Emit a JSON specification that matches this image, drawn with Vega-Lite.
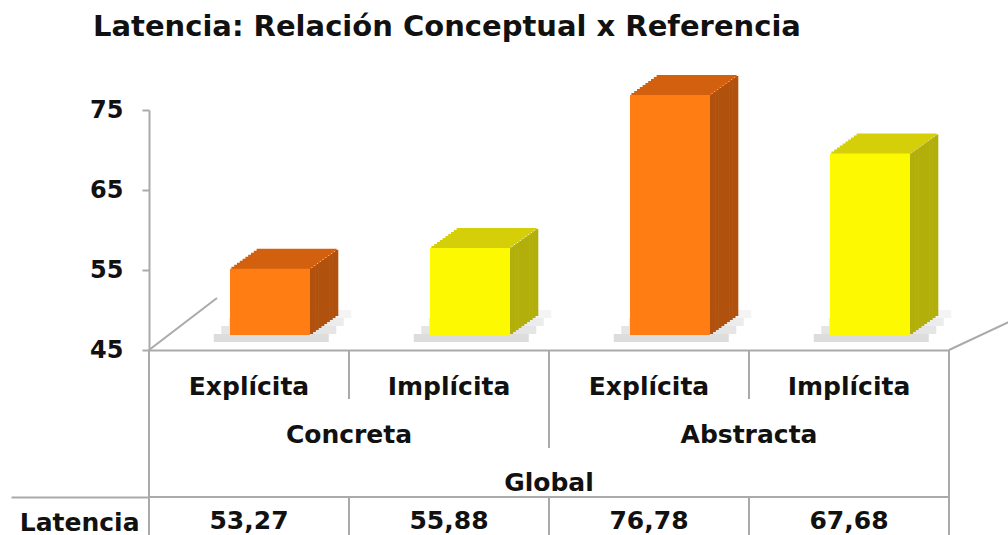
{
  "$schema": "https://vega.github.io/schema/vega-lite/v6.json",
  "padding": {"left": 10, "top": 13, "right": 0, "bottom": 0},
  "bounds": "flush",
  "spacing": 0,
  "title": {"text": "Latencia: Relación Conceptual x Referencia", "anchor": "start", "font": "DejaVu Sans", "fontSize": 29, "fontWeight": "bold", "color": "#111111", "dx": 83, "offset": 33},
  "config": {
    "view": {"stroke": null},
    "locale": {"number": {"decimal": ",", "thousands": ".", "grouping": [3], "currency": ["", " €"]}},
    "text": {"font": "DejaVu Sans", "fontWeight": "bold", "fontSize": 25, "color": "#111111", "baseline": "alphabetic"}
  },
  "datasets": {
    "bars": [
      {"rel": "Concreta", "ref": "Explícita", "cond": "Concreta Explícita", "latencia": 53.27},
      {"rel": "Concreta", "ref": "Implícita", "cond": "Concreta Implícita", "latencia": 55.88},
      {"rel": "Abstracta", "ref": "Explícita", "cond": "Abstracta Explícita", "latencia": 76.78},
      {"rel": "Abstracta", "ref": "Implícita", "cond": "Abstracta Implícita", "latencia": 67.68}
    ],
    "lines": [
      {"col": "Concreta Explícita", "from": "Referencia", "to": "Latencia"},
      {"col": "Concreta Implícita", "from": "Referencia", "to": "Referencia"},
      {"col": "Abstracta Explícita", "from": "Referencia", "to": "Relación"},
      {"col": "Abstracta Implícita", "from": "Referencia", "to": "Referencia"},
      {"col": "Concreta Implícita", "from": "Latencia", "to": "Latencia"},
      {"col": "Abstracta Explícita", "from": "Latencia", "to": "Latencia"},
      {"col": "Abstracta Implícita", "from": "Latencia", "to": "Latencia"}
    ],
    "edge": [
      {"col": "Abstracta Implícita", "from": "Referencia", "to": "Latencia"}
    ]
  },
  "vconcat": [
    {
      "width": 800,
      "height": 240,
      "resolve": {"scale": {"x": "independent"}},
      "layer": [
        {"data": {"values": [{"lado": "izquierdo"}]}, "mark": {"type": "rule", "color": "#aaaaaa", "strokeWidth": 2}, "encoding": {"x": {"datum": 0, "type": "quantitative", "scale": {"domain": [0, 4], "nice": false, "zero": false}, "axis": null}, "x2": {"datum": 0.34}, "y": {"datum": 45, "type": "quantitative"}, "y2": {"datum": 51.5}}},
        {"data": {"values": [{"lado": "derecho"}]}, "mark": {"type": "rule", "color": "#aaaaaa", "strokeWidth": 2}, "encoding": {"x": {"datum": 4, "type": "quantitative", "scale": {"domain": [0, 4], "nice": false, "zero": false}, "axis": null}, "x2": {"datum": 4.3}, "y": {"datum": 45, "type": "quantitative"}, "y2": {"datum": 48.5}}},
        {
          "data": {"name": "bars"},
          "encoding": {
            "x": {"field": "cond", "type": "nominal", "sort": ["Concreta Explícita", "Concreta Implícita", "Abstracta Explícita", "Abstracta Implícita"], "scale": {"domain": ["Concreta Explícita", "Concreta Implícita", "Abstracta Explícita", "Abstracta Implícita"], "paddingInner": 0, "paddingOuter": 0}, "axis": {"labels": false, "ticks": false, "title": null, "domainColor": "#aaaaaa", "domainWidth": 2}},
            "y": {"field": "latencia", "type": "quantitative", "scale": {"domain": [45, 75], "nice": false, "zero": false, "clamp": true}, "axis": {"values": [45, 55, 65, 75], "title": null, "grid": false, "domainColor": "#aaaaaa", "domainWidth": 2, "tickColor": "#aaaaaa", "tickWidth": 2, "tickSize": 7, "labelFont": "DejaVu Sans", "labelFontWeight": "bold", "labelFontSize": 24, "labelColor": "#111111", "labelPadding": 19}}
          },
          "layer": [
            {"mark": {"type": "bar", "width": 115, "xOffset": 22.25, "yOffset": -16, "y2Offset": -8, "color": "#b4b4b4", "opacity": 0.45}, "encoding": {"y": {"datum": 45, "type": "quantitative"}, "y2": {"datum": 45}}},
            {"mark": {"type": "bar", "width": 115, "xOffset": 29.75, "yOffset": -24, "y2Offset": -16, "color": "#b4b4b4", "opacity": 0.35}, "encoding": {"y": {"datum": 45, "type": "quantitative"}, "y2": {"datum": 45}}},
            {"mark": {"type": "bar", "width": 115, "xOffset": 37.25, "yOffset": -32, "y2Offset": -24, "color": "#b4b4b4", "opacity": 0.25}, "encoding": {"y": {"datum": 45, "type": "quantitative"}, "y2": {"datum": 45}}},
            {"mark": {"type": "bar", "width": 115, "xOffset": 44.75, "yOffset": -40, "y2Offset": -32, "color": "#b4b4b4", "opacity": 0.15}, "encoding": {"y": {"datum": 45, "type": "quantitative"}, "y2": {"datum": 45}}},
            {"mark": {"type": "bar", "width": 3.4, "xOffset": 62.4, "yOffset": -16, "y2Offset": -16}, "encoding": {"y2": {"datum": 45}, "color": {"condition": {"test": "datum.ref === 'Explícita'", "value": "#b0520e"}, "value": "#b3af0a"}}},
            {"mark": {"type": "bar", "width": 3.4, "xOffset": 65.2, "yOffset": -18, "y2Offset": -18}, "encoding": {"y2": {"datum": 45}, "color": {"condition": {"test": "datum.ref === 'Explícita'", "value": "#b0520e"}, "value": "#b3af0a"}}},
            {"mark": {"type": "bar", "width": 3.4, "xOffset": 68.0, "yOffset": -20, "y2Offset": -20}, "encoding": {"y2": {"datum": 45}, "color": {"condition": {"test": "datum.ref === 'Explícita'", "value": "#b0520e"}, "value": "#b3af0a"}}},
            {"mark": {"type": "bar", "width": 3.4, "xOffset": 70.8, "yOffset": -22, "y2Offset": -22}, "encoding": {"y2": {"datum": 45}, "color": {"condition": {"test": "datum.ref === 'Explícita'", "value": "#b0520e"}, "value": "#b3af0a"}}},
            {"mark": {"type": "bar", "width": 3.4, "xOffset": 73.6, "yOffset": -24, "y2Offset": -24}, "encoding": {"y2": {"datum": 45}, "color": {"condition": {"test": "datum.ref === 'Explícita'", "value": "#b0520e"}, "value": "#b3af0a"}}},
            {"mark": {"type": "bar", "width": 3.4, "xOffset": 76.4, "yOffset": -26, "y2Offset": -26}, "encoding": {"y2": {"datum": 45}, "color": {"condition": {"test": "datum.ref === 'Explícita'", "value": "#b0520e"}, "value": "#b3af0a"}}},
            {"mark": {"type": "bar", "width": 3.4, "xOffset": 79.2, "yOffset": -28, "y2Offset": -28}, "encoding": {"y2": {"datum": 45}, "color": {"condition": {"test": "datum.ref === 'Explícita'", "value": "#b0520e"}, "value": "#b3af0a"}}},
            {"mark": {"type": "bar", "width": 3.4, "xOffset": 82.0, "yOffset": -30, "y2Offset": -30}, "encoding": {"y2": {"datum": 45}, "color": {"condition": {"test": "datum.ref === 'Explícita'", "value": "#b0520e"}, "value": "#b3af0a"}}},
            {"mark": {"type": "bar", "width": 3.4, "xOffset": 84.8, "yOffset": -32, "y2Offset": -32}, "encoding": {"y2": {"datum": 45}, "color": {"condition": {"test": "datum.ref === 'Explícita'", "value": "#b0520e"}, "value": "#b3af0a"}}},
            {"mark": {"type": "bar", "width": 3.4, "xOffset": 87.6, "yOffset": -34, "y2Offset": -34}, "encoding": {"y2": {"datum": 45}, "color": {"condition": {"test": "datum.ref === 'Explícita'", "value": "#b0520e"}, "value": "#b3af0a"}}},
            {"mark": {"type": "bar", "width": {"band": 0.4}, "xOffset": 22.4, "yOffset": -17, "y2Offset": -14.6}, "encoding": {"y2": {"field": "latencia"}, "color": {"condition": {"test": "datum.ref === 'Explícita'", "value": "#d2600e"}, "value": "#d4cf08"}}},
            {"mark": {"type": "bar", "width": {"band": 0.4}, "xOffset": 25.2, "yOffset": -19, "y2Offset": -16.6}, "encoding": {"y2": {"field": "latencia"}, "color": {"condition": {"test": "datum.ref === 'Explícita'", "value": "#d2600e"}, "value": "#d4cf08"}}},
            {"mark": {"type": "bar", "width": {"band": 0.4}, "xOffset": 28.0, "yOffset": -21, "y2Offset": -18.6}, "encoding": {"y2": {"field": "latencia"}, "color": {"condition": {"test": "datum.ref === 'Explícita'", "value": "#d2600e"}, "value": "#d4cf08"}}},
            {"mark": {"type": "bar", "width": {"band": 0.4}, "xOffset": 30.8, "yOffset": -23, "y2Offset": -20.6}, "encoding": {"y2": {"field": "latencia"}, "color": {"condition": {"test": "datum.ref === 'Explícita'", "value": "#d2600e"}, "value": "#d4cf08"}}},
            {"mark": {"type": "bar", "width": {"band": 0.4}, "xOffset": 33.6, "yOffset": -25, "y2Offset": -22.6}, "encoding": {"y2": {"field": "latencia"}, "color": {"condition": {"test": "datum.ref === 'Explícita'", "value": "#d2600e"}, "value": "#d4cf08"}}},
            {"mark": {"type": "bar", "width": {"band": 0.4}, "xOffset": 36.4, "yOffset": -27, "y2Offset": -24.6}, "encoding": {"y2": {"field": "latencia"}, "color": {"condition": {"test": "datum.ref === 'Explícita'", "value": "#d2600e"}, "value": "#d4cf08"}}},
            {"mark": {"type": "bar", "width": {"band": 0.4}, "xOffset": 39.2, "yOffset": -29, "y2Offset": -26.6}, "encoding": {"y2": {"field": "latencia"}, "color": {"condition": {"test": "datum.ref === 'Explícita'", "value": "#d2600e"}, "value": "#d4cf08"}}},
            {"mark": {"type": "bar", "width": {"band": 0.4}, "xOffset": 42.0, "yOffset": -31, "y2Offset": -28.6}, "encoding": {"y2": {"field": "latencia"}, "color": {"condition": {"test": "datum.ref === 'Explícita'", "value": "#d2600e"}, "value": "#d4cf08"}}},
            {"mark": {"type": "bar", "width": {"band": 0.4}, "xOffset": 44.8, "yOffset": -33, "y2Offset": -30.6}, "encoding": {"y2": {"field": "latencia"}, "color": {"condition": {"test": "datum.ref === 'Explícita'", "value": "#d2600e"}, "value": "#d4cf08"}}},
            {"mark": {"type": "bar", "width": {"band": 0.4}, "xOffset": 47.6, "yOffset": -35, "y2Offset": -32.6}, "encoding": {"y2": {"field": "latencia"}, "color": {"condition": {"test": "datum.ref === 'Explícita'", "value": "#d2600e"}, "value": "#d4cf08"}}},
            {"mark": {"type": "bar", "width": {"band": 0.4}, "xOffset": 21, "yOffset": -15, "y2Offset": -15}, "encoding": {"y2": {"datum": 45}, "color": {"condition": {"test": "datum.ref === 'Explícita'", "value": "#ff7d12"}, "value": "#fdf900"}}}
          ]
        }
      ]
    },
    {
      "width": 800,
      "height": 196,
      "resolve": {"scale": {"x": "independent"}},
      "layer": [
        {
          "data": {"values": [{"fila": "Latencia"}]},
          "mark": {"type": "rule", "color": "#aaaaaa", "strokeWidth": 2},
          "encoding": {
            "y": {"field": "fila", "type": "nominal", "bandPosition": 0, "scale": {"domain": ["Referencia", "Relación", "Global", "Latencia"], "paddingInner": 0, "paddingOuter": 0}, "axis": {"orient": "left", "title": null, "bandPosition": 0, "domain": false, "tickSize": 138, "tickWidth": 2, "tickColor": {"condition": {"test": "datum.value === 'Latencia'", "value": "#aaaaaa"}, "value": "transparent"}, "labelExpr": "datum.value === 'Latencia' ? datum.value : ''", "labelPadding": -128, "labelOffset": 9, "labelBaseline": "alphabetic", "labelFont": "DejaVu Sans", "labelFontWeight": "bold", "labelFontSize": 25, "labelColor": "#111111"}}
          }
        },
        {
          "data": {"name": "bars"},
          "mark": {"type": "text", "dy": 20},
          "encoding": {
            "x": {"field": "cond", "type": "nominal", "scale": {"domain": ["Concreta Explícita", "Concreta Implícita", "Abstracta Explícita", "Abstracta Implícita"], "paddingInner": 0, "paddingOuter": 0}, "axis": null},
            "y": {"datum": "Referencia", "type": "nominal"},
            "text": {"field": "ref"}
          }
        },
        {
          "data": {"name": "bars"},
          "transform": [{"aggregate": [{"op": "count", "as": "n"}], "groupby": ["rel"]}],
          "mark": {"type": "text", "dy": 19},
          "encoding": {
            "x": {"field": "rel", "type": "nominal", "scale": {"domain": ["Concreta", "Abstracta"], "paddingInner": 0, "paddingOuter": 0}, "axis": null},
            "y": {"datum": "Relación", "type": "nominal"},
            "text": {"field": "rel"}
          }
        },
        {
          "data": {"values": [{"nivel": "Global"}]},
          "mark": {"type": "text", "dy": 18},
          "encoding": {
            "y": {"datum": "Global", "type": "nominal"},
            "text": {"field": "nivel"}
          }
        },
        {
          "data": {"name": "bars"},
          "mark": {"type": "text", "dy": 7},
          "encoding": {
            "x": {"field": "cond", "type": "nominal", "scale": {"domain": ["Concreta Explícita", "Concreta Implícita", "Abstracta Explícita", "Abstracta Implícita"], "paddingInner": 0, "paddingOuter": 0}, "axis": null},
            "y": {"datum": "Latencia", "type": "nominal"},
            "text": {"field": "latencia", "type": "quantitative", "format": ".2f"}
          }
        },
        {
          "data": {"name": "lines"},
          "mark": {"type": "rule", "color": "#aaaaaa", "strokeWidth": 2},
          "encoding": {
            "x": {"field": "col", "type": "nominal", "bandPosition": 0, "scale": {"domain": ["Concreta Explícita", "Concreta Implícita", "Abstracta Explícita", "Abstracta Implícita"], "paddingInner": 0, "paddingOuter": 0}, "axis": null},
            "y": {"field": "from", "type": "nominal", "bandPosition": 0},
            "y2": {"field": "to", "bandPosition": 1}
          }
        },
        {
          "data": {"name": "edge"},
          "mark": {"type": "rule", "color": "#aaaaaa", "strokeWidth": 2},
          "encoding": {
            "x": {"field": "col", "type": "nominal", "bandPosition": 1, "scale": {"domain": ["Concreta Explícita", "Concreta Implícita", "Abstracta Explícita", "Abstracta Implícita"], "paddingInner": 0, "paddingOuter": 0}, "axis": null},
            "y": {"field": "from", "type": "nominal", "bandPosition": 0},
            "y2": {"field": "to", "bandPosition": 1}
          }
        }
      ]
    }
  ]
}
